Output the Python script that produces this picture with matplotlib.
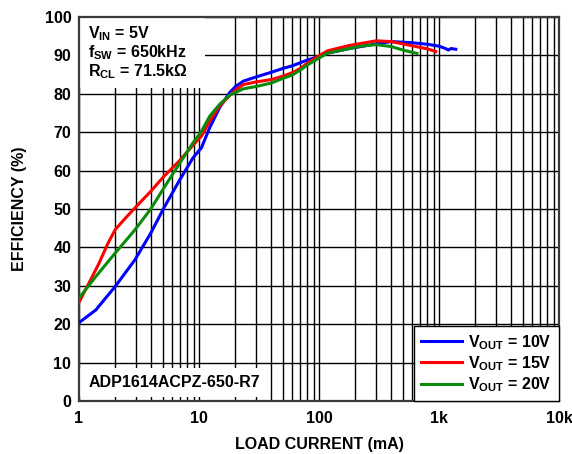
import matplotlib
matplotlib.use("Agg")
import matplotlib.pyplot as plt
from matplotlib.patches import Rectangle
from matplotlib.ticker import FixedLocator, NullFormatter

plt.rcParams['font.family'] = ['Liberation Sans', 'DejaVu Sans']
plt.rcParams['font.weight'] = 'bold'
plt.rcParams['font.size'] = 11.5
plt.rcParams['mathtext.fontset'] = 'custom'
plt.rcParams['mathtext.rm'] = 'Liberation Sans:bold'
plt.rcParams['mathtext.it'] = 'Liberation Sans:bold'
plt.rcParams['mathtext.bf'] = 'Liberation Sans:bold'

# load current (mA) / efficiency (%)
i_10v = [1, 1.38, 2, 2.93, 3.96, 5.1, 6.8, 8.9, 10.5, 12.2, 14.9, 18.1, 20, 23.4, 30, 40, 50, 60, 70, 80,
         100, 118, 180, 300, 400, 600, 800, 1000, 1130, 1200, 1260, 1380]
eff_10v = [20.4, 23.7, 29.8, 36.8, 43.7, 50.3, 57.2, 63.3, 66, 71, 76.5, 80.4, 81.8, 83.3, 84.4, 85.6, 86.6,
           87.3, 88.1, 88.8, 89.7, 90.6, 91.8, 93, 93.6, 93.3, 92.9, 92.4, 91.8, 91.4, 91.8, 91.6]

i_15v = [1, 1.21, 1.47, 1.72, 2, 2.45, 2.93, 3.96, 5.1, 6.8, 8.9, 10.5, 12.3, 14.9, 18.1, 20, 23.4, 30,
         40, 50, 60, 70, 80, 100, 118, 180, 300, 400, 600, 800, 940]
eff_15v = [25.7, 30.7, 35.9, 40.7, 44.6, 47.7, 50.3, 54.6, 58.5, 62.4, 66.6, 69, 72.9, 76.9, 79.6, 80.9,
           82.4, 83.1, 83.7, 84.6, 85.5, 86.6, 88, 89.9, 91.2, 92.6, 93.8, 93.6, 92.5, 91.7, 91]

i_20v = [1, 1.38, 2, 2.93, 3.96, 5.1, 6.8, 8.9, 10.5, 12.3, 14.9, 18.1, 20, 23.4, 30, 40, 50, 60, 70,
         80, 100, 118, 180, 220, 300, 400, 500, 655]
eff_20v = [26.8, 32.4, 38.5, 44.6, 50, 55.5, 61.6, 67.2, 70.3, 74.2, 77.3, 79.7, 80.3, 81.3, 81.9, 82.8,
           84, 84.9, 86.2, 87.5, 89.3, 90.6, 91.8, 92.4, 92.8, 92.3, 91.4, 90.5]

x_ticks = [1, 10, 100, 1000, 10000]
x_ticklabels = ['1', '10', '100', '1k', '10k']
y_ticks = list(range(0, 101, 10))

fig = plt.figure(figsize=(5.72, 4.54), dpi=100)
ax = fig.add_axes([79/572, 53/454, 480/572, 384/454])
ax.set_axisbelow(True)

ax.plot(i_10v, eff_10v, color='#0000ff', lw=2.2, label=r'V$_{\rm OUT}$ = 10V', zorder=3)
ax.plot(i_15v, eff_15v, color='#ff0000', lw=2.2, label=r'V$_{\rm OUT}$ = 15V', zorder=3)
ax.plot(i_20v, eff_20v, color='#0a8c0a', lw=2.2, label=r'V$_{\rm OUT}$ = 20V', zorder=3)

ax.set_xscale('log')
ax.set_xlim(1, 10000)
ax.set_ylim(0, 100)
ax.set_xticks(x_ticks)
ax.set_xticklabels(x_ticklabels)
minors = [m * 10**d for d in range(4) for m in range(2, 10)]
ax.xaxis.set_minor_locator(FixedLocator(minors))
ax.xaxis.set_minor_formatter(NullFormatter())
ax.set_yticks(y_ticks)
ax.tick_params(which='both', length=0)
ax.tick_params(axis='x', pad=7)
ax.tick_params(axis='y', pad=5.5)

ax.grid(which='both', axis='x', color='black', lw=1.0)
ax.grid(which='major', axis='y', color='black', lw=1.0)
for s in ax.spines.values():
    s.set_color('#3a3a3a')
    s.set_linewidth(1.6)

# white boxes that blank out the grid behind the notes
ax.add_patch(Rectangle((0, 0.815), 0.262, 0.185, transform=ax.transAxes,
                       facecolor='white', edgecolor='none', zorder=1))
ax.add_patch(Rectangle((0, 0.01), 0.39, 0.076, transform=ax.transAxes,
                       facecolor='white', edgecolor='none', zorder=1))

ax.text(0.019, 0.9445, r'V$_{\rm IN}$ = 5V', transform=ax.transAxes, va='baseline', zorder=4)
ax.text(0.019, 0.895, r'f$_{\rm SW}$ = 650kHz', transform=ax.transAxes, va='baseline', zorder=4)
ax.text(0.019, 0.846, r'R$_{\rm CL}$ = 71.5kΩ', transform=ax.transAxes, va='baseline', zorder=4)
ax.text(0.019, 0.037, 'ADP1614ACPZ-650-R7', transform=ax.transAxes, va='baseline', zorder=4)

leg = ax.legend(loc='lower right', bbox_to_anchor=(1.0, 0.0), frameon=True, fancybox=False,
                facecolor='white', edgecolor='black', framealpha=1,
                handlelength=2.55, handletextpad=0.4, labelspacing=0.15,
                borderaxespad=0.0, borderpad=0.45)
leg.get_frame().set_linewidth(1.0)
leg.set_zorder(5)

ax.set_xlabel('LOAD CURRENT (mA)', fontweight='bold', labelpad=8)
ax.set_ylabel('EFFICIENCY (%)', fontweight='bold', labelpad=13)

fig.savefig('out.png', dpi=100)
